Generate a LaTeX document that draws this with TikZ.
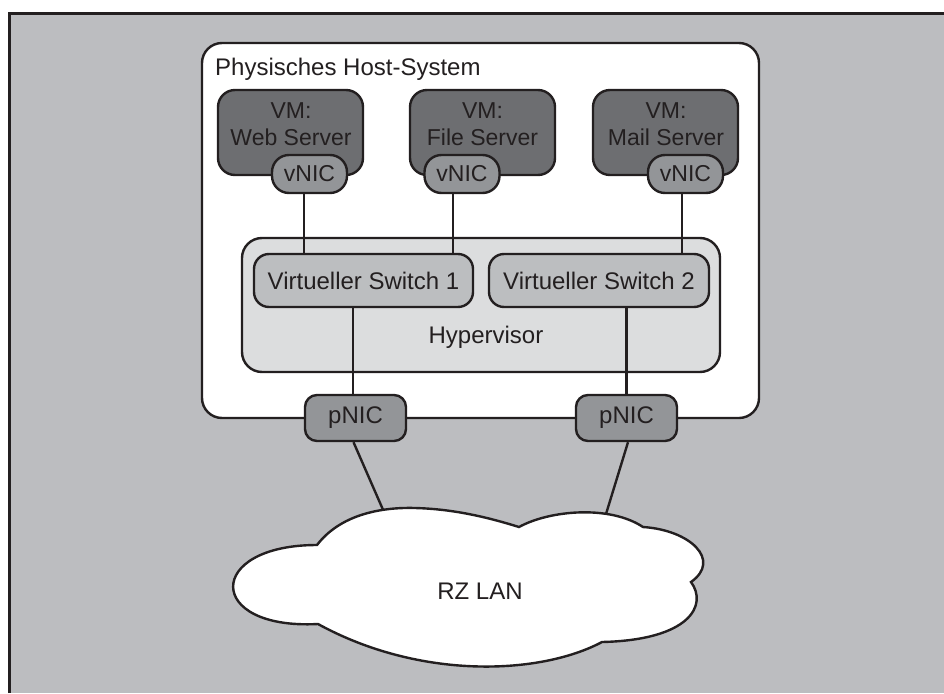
\documentclass[tikz,border=0pt]{standalone}
\usepackage{fontspec}
\setmainfont{Liberation Sans}
\definecolor{bgc}{HTML}{BCBDC0}
\definecolor{vmc}{HTML}{6D6E71}
\definecolor{nicc}{HTML}{939598}
\definecolor{hypc}{HTML}{DCDDDE}
\definecolor{swc}{HTML}{BCBEC0}
\definecolor{linec}{HTML}{231F20}
\tikzset{
  base/.style={draw=linec, line width=2.4pt, inner sep=0pt, text=linec, font=\fontsize{24}{28}\selectfont},
  hostbox/.style={base, fill=white, rounded corners=20pt},
  hypbox/.style={base, fill=hypc, rounded corners=20pt},
  swbox/.style={base, fill=swc, rounded corners=15pt, minimum width=219pt, minimum height=53pt},
  vmbox/.style={base, fill=vmc, rounded corners=17pt, minimum width=145pt, minimum height=85pt},
  vmtext/.style={inner sep=0pt, text=linec, align=center, font=\fontsize{23}{27}\selectfont},
  vnicbox/.style={base, fill=nicc, rounded corners=17pt, minimum width=75pt, minimum height=38pt, font=\fontsize{23}{27}\selectfont},
  pnicbox/.style={base, fill=nicc, rounded corners=12pt, minimum width=101pt, minimum height=46pt},
  txt/.style={inner sep=0pt, text=linec, font=\fontsize{24}{28}\selectfont},
  wire/.style={draw=linec, line width=2.4pt}
}
\begin{document}
\begin{tikzpicture}[x=1pt,y=-1pt]
\useasboundingbox (0,0) rectangle (944,693);
\fill[bgc] (8,12) rectangle (944,693);
\draw[linec, line width=3pt] (9.5,693) -- (9.5,13.5) -- (944,13.5);

% host
\node[hostbox, minimum width=557pt, minimum height=375pt] (host) at (480.5,230.5) {};
\node[txt, anchor=base west] (title) at (215,75) {Physisches Host-System};

% hypervisor
\node[hypbox, minimum width=478pt, minimum height=134pt] (hyp) at (481,305) {};
\node[txt, anchor=base] (hyplabel) at (486,343) {Hypervisor};
\node[swbox] (s1) at (363.5,280.5) {Virtueller Switch 1};
\node[swbox, minimum width=220pt] (s2) at (599,280.5) {Virtueller Switch 2};

% VMs
\node[vmbox] (vm1) at (290.5,132.5) {};
\node[vmbox] (vm2) at (482.5,132.5) {};
\node[vmbox] (vm3) at (665.5,132.5) {};
\node[vmtext] (vm1t) at (291,124) {VM:\\Web Server};
\node[vmtext] (vm2t) at (482.5,124) {VM:\\File Server};
\node[vmtext] (vm3t) at (666,124) {VM:\\Mail Server};
\node[vnicbox] (v1) at (309.5,174) {vNIC};
\node[vnicbox] (v2) at (462,174) {vNIC};
\node[vnicbox] (v3) at (685.5,174) {vNIC};

% vNIC to switches
\draw[wire] ([xshift=-5.5pt]v1.south) -- ([xshift=-5.5pt]v1.south |- s1.north);
\draw[wire] ([xshift=-9pt]v2.south) -- ([xshift=-9pt]v2.south |- s1.north);
\draw[wire] ([xshift=-3.5pt]v3.south) -- ([xshift=-3.5pt]v3.south |- s2.north);

% pNICs
\node[pnicbox] (p1) at (355.5,418) {pNIC};
\node[pnicbox] (p2) at (626.5,418) {pNIC};
\draw[wire] ([xshift=-2.5pt]p1.north) -- ([xshift=-2.5pt]p1.north |- s1.south);
\draw[wire] (p2.north) -- (p2.north |- s2.south);

% cloud
\coordinate (c1) at (384,512);
\coordinate (c2) at (606,514);
\draw[wire] ([xshift=-2pt]p1.south) -- (c1);
\draw[wire] ([xshift=1.5pt]p2.south) -- (c2);
\draw[wire, fill=white] (317,545) .. controls (340,515) and (380,507) .. (415,508)
  .. controls (455,509) and (490,518) .. (519,527)
  .. controls (550,510) and (610,505) .. (643,527)
  .. controls (690,530) and (722,560) .. (691,582)
  .. controls (708,605) and (690,640) .. (602,642)
  .. controls (540,675) and (420,680) .. (318,624)
  .. controls (205,630) and (205,545) .. (317,545) -- cycle;
\node[txt] (lan) at (480,591) {RZ LAN};
\end{tikzpicture}
\end{document}
